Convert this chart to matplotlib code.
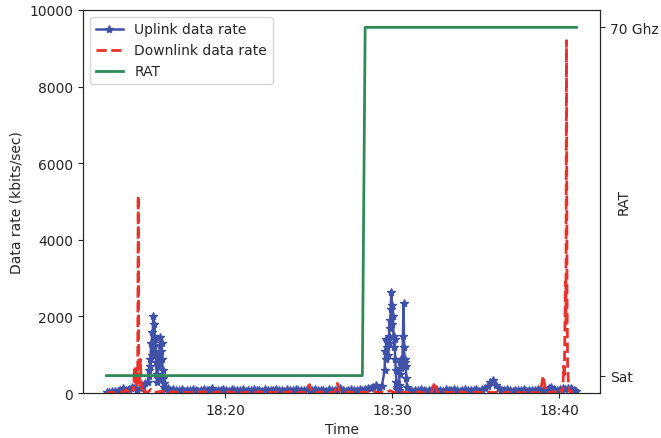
import matplotlib
matplotlib.use('Agg')
import matplotlib.pyplot as plt
import matplotlib.dates as mdates
import pandas as pd

# regular log: one sample every 10 s from 18:12:53
times = pd.date_range('2021-06-01 18:12:53', periods=170, freq='10s')

# uplink is logged every 10 s, but every 2 s during the two bursts
up_times = (list(times[0:15])
            + list(pd.date_range('2021-06-01 18:15:23', periods=31, freq='2s'))
            + list(times[22:100])
            + list(pd.date_range('2021-06-01 18:29:33', periods=41, freq='2s'))
            + list(times[109:170]))

# downlink is logged every 2 s around its two peaks
down_times = (list(times[0:9])
              + list(pd.date_range('2021-06-01 18:14:23', periods=25, freq='2s'))
              + list(times[15:163])
              + list(pd.date_range('2021-06-01 18:40:03', periods=26, freq='2s'))
              + list(times[169:170]))

up_start = [20, 30, 40, 60, 50, 90, 130, 80, 110, 150, 120, 90, 140, 180, 250]

up_burst1 = [
    300, 600, 450, 900, 700, 1300, 1000, 1600, 1200, 2000,
    1500, 1800, 1100, 1400, 800, 500, 300, 400, 700, 1000,
    800, 1250, 1450, 1100, 1300, 900, 600, 400, 250, 150,
    100,
]

up_middle = [
    120, 90, 110, 70, 80, 100, 60, 90,
    70, 110, 80, 60, 90, 100, 70, 80, 120, 60,
    90, 70, 100, 80, 60, 110, 90, 70, 80, 100,
    60, 90, 80, 110, 70, 90, 60, 100, 80, 70,
    90, 110, 70, 80, 60, 100, 90, 70, 110, 80,
    70, 90, 100, 60, 80, 110, 70, 90, 80, 60,
    100, 80, 70, 90, 120, 80, 60, 90, 100, 70,
    80, 110, 90, 100, 130, 120, 150, 210, 140, 180,
]

up_burst2 = [
    600, 1100, 900, 1400, 1200, 1350, 1000, 1300, 1500, 1900,
    1700, 2200, 2650, 2300, 1800, 2000, 1500, 1200, 1400, 900,
    600, 300, 150, 100, 120, 90, 200, 500, 800, 650,
    900, 750, 850, 1500, 2350, 1200, 800, 900, 700, 400,
    150,
]

up_end = [
    80,
    60, 90, 70, 100, 80, 60, 90, 110, 70, 80,
    90, 60, 100, 80, 70, 110, 90, 60, 80, 100,
    70, 90, 80, 110, 60, 100, 120, 180, 280, 350,
    220, 130, 90, 70, 100, 80, 60, 90, 80, 70,
    100, 60, 80, 90, 70, 110, 80, 90, 60, 120,
    150, 100, 90, 110, 130, 100, 120, 140, 90, 40,
]

uplink = up_start + up_burst1 + up_middle + up_burst2 + up_end

down_start = [0, 10, 20, 0, 30, 50, 20, 80, 40]

down_peak1 = [
    40, 60, 30, 150, 80, 650, 300, 700, 250, 600,
    200, 400, 5150, 300, 200, 500, 880, 400, 150, 80,
    50, 100, 40, 60, 30,
]

down_middle = [
    30, 100, 50, 20, 40,
    30, 60, 20, 10, 40, 20, 10, 30, 20, 10,
    10, 20, 0, 30, 10, 40, 20, 10, 0, 20,
    30, 10, 20, 0, 40, 10, 20, 30, 10, 0,
    20, 10, 30, 0, 20, 40, 10, 20, 0, 30,
    10, 20, 0, 30, 10, 20, 40, 10, 20, 0,
    30, 10, 20, 220, 10, 0, 20, 30, 10, 20,
    0, 20, 10, 250, 20, 10, 0, 30, 20, 10,
    20, 0, 30, 10, 20, 10, 40, 20, 10, 30,
    20, 40, 60, 30, 10, 20, 50, 20, 10, 0,
    20, 10, 30, 20, 0, 10, 20, 30, 280, 10,
    20, 0, 30, 10, 20, 10, 0, 20, 30, 10,
    0, 20, 10, 30, 20, 10, 40, 30, 20, 10,
    20, 30, 10, 0, 20, 10, 30, 20, 10, 0,
    20, 10, 30, 20, 10, 0, 20, 450, 30, 10,
    20, 30, 10,
]

down_peak2 = [
    30, 20, 60, 40, 100, 50, 300, 700, 400, 1500,
    2900, 1800, 9200, 2600, 700, 400, 150, 60, 30, 50,
    20, 40, 10, 30, 20, 10,
]

down_end = [20]

downlink = down_start + down_peak1 + down_middle + down_peak2 + down_end

# radio access technology in use
rat = ['Sat'] * 93 + ['70 Ghz'] * 77

plt.rcParams['text.color'] = '.15'
plt.rcParams['axes.labelcolor'] = '.15'
plt.rcParams['xtick.color'] = '.15'
plt.rcParams['ytick.color'] = '.15'
plt.rcParams['axes.edgecolor'] = '.15'

fig, ax = plt.subplots(figsize=(6.61, 4.39), dpi=100)
fig.subplots_adjust(left=0.1256, right=0.9077, top=0.975, bottom=0.1025)

l1, = ax.plot(up_times, uplink, color='#4051A8', marker='*', markersize=6,
              lw=1.8, label='Uplink data rate')
l2, = ax.plot(down_times, downlink, color='#E8322B', ls='--', lw=2,
              label='Downlink data rate')
ax.set_ylim(0, 10000)
ax.set_ylabel('Data rate (kbits/sec)')
ax.set_xlabel('Time')
ax.xaxis.set_major_locator(mdates.MinuteLocator(byminute=[0, 10, 20, 30, 40, 50]))
ax.xaxis.set_major_formatter(mdates.DateFormatter('%H:%M'))

ax2 = ax.twinx()
l3, = ax2.plot(times, rat, color='#2E8B57', lw=2, label='RAT')
ax2.set_ylabel('RAT')
ax2.yaxis.set_label_coords(1.032, 0.5)

ax.legend(handles=[l1, l2, l3], loc='upper left')

plt.savefig('out.png')
